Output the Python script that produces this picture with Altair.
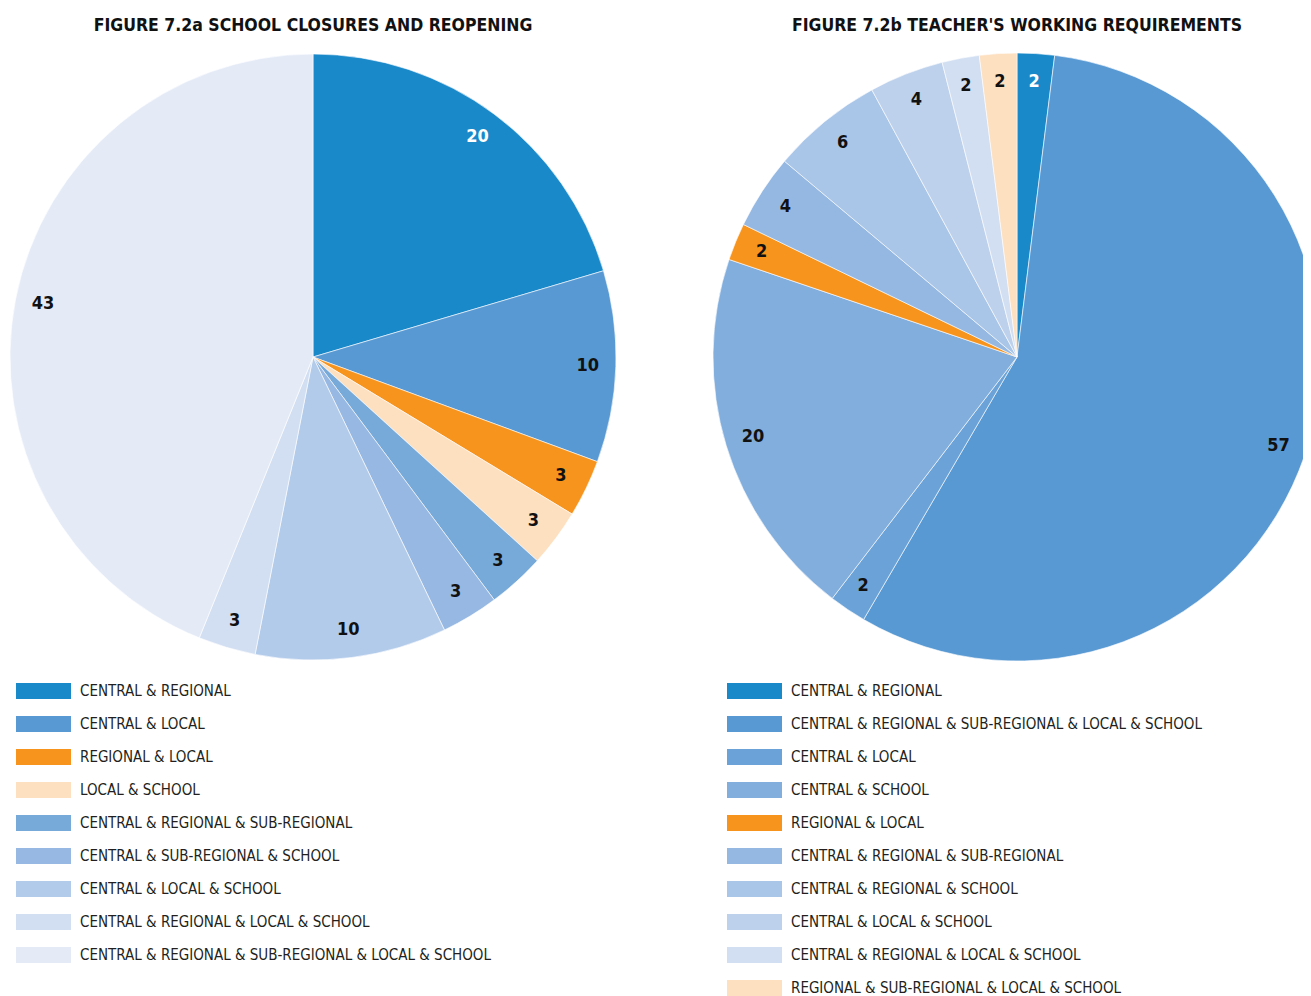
import altair as alt
import pandas as pd

FONT = "Liberation Sans Narrow, DejaVu Sans Condensed, Liberation Sans, sans-serif"

# ---- Figure 7.2a : school closures and reopening ----
left_title = "FIGURE 7.2a SCHOOL CLOSURES AND REOPENING"
left_categories = [
    "CENTRAL & REGIONAL",
    "CENTRAL & LOCAL",
    "REGIONAL & LOCAL",
    "LOCAL & SCHOOL",
    "CENTRAL & REGIONAL & SUB-REGIONAL",
    "CENTRAL & SUB-REGIONAL & SCHOOL",
    "CENTRAL & LOCAL & SCHOOL",
    "CENTRAL & REGIONAL & LOCAL & SCHOOL",
    "CENTRAL & REGIONAL & SUB-REGIONAL & LOCAL & SCHOOL",
]
left_values = [20, 10, 3, 3, 3, 3, 10, 3, 43]
left_colors = ["#1a89c9", "#5899d3", "#f7941e", "#fde0c0", "#77a9d9",
               "#96b8e2", "#b3cbea", "#d2dff2", "#e4ebf7"]

# ---- Figure 7.2b : teacher's working requirements ----
right_title = "FIGURE 7.2b TEACHER'S WORKING REQUIREMENTS"
right_categories = [
    "CENTRAL & REGIONAL",
    "CENTRAL & REGIONAL & SUB-REGIONAL & LOCAL & SCHOOL",
    "CENTRAL & LOCAL",
    "CENTRAL & SCHOOL",
    "REGIONAL & LOCAL",
    "CENTRAL & REGIONAL & SUB-REGIONAL",
    "CENTRAL & REGIONAL & SCHOOL",
    "CENTRAL & LOCAL & SCHOOL",
    "CENTRAL & REGIONAL & LOCAL & SCHOOL",
    "REGIONAL & SUB-REGIONAL & LOCAL & SCHOOL",
]
right_values = [2, 57, 2, 20, 2, 4, 6, 4, 2, 2]
right_colors = ["#1a89c9", "#5899d3", "#6ba3d9", "#82aedd", "#f7941e",
                "#95b8e2", "#a9c5e8", "#bdd1ec", "#d2dff2", "#fde0c0"]

W, H = 1295, 988
ROW_SCALE = alt.Scale(domain=[0, 9], range=[683, 980])


def panel(title, cats, vals, colors, cx, cy, radius, lx):
    df = pd.DataFrame({"category": cats, "value": vals, "idx": list(range(len(cats)))})
    color = alt.Color("category:N", scale=alt.Scale(domain=cats, range=colors), legend=None)
    base = alt.Chart(df)
    theta = alt.Theta("value:Q", stack=True)
    order = alt.Order("idx:Q", sort="ascending")

    arcs = base.mark_arc(outerRadius=radius, stroke="white", strokeWidth=0.6).encode(
        theta=theta, order=order, color=color,
        x=alt.value(cx), y=alt.value(cy),
    )
    labels = base.mark_text(radius=radius - 28, font=FONT, fontSize=18, fontWeight="bold",
                            align="center", baseline="middle").encode(
        theta=theta, order=order, text=alt.Text("value:Q"),
        x=alt.value(cx), y=alt.value(cy),
        color=alt.condition(alt.datum.category == "CENTRAL & REGIONAL",
                            alt.value("white"), alt.value("#111111")),
    )
    swatches = base.mark_rule(strokeWidth=16).encode(
        x=alt.value(lx), x2=alt.value(lx + 55),
        y=alt.Y("idx:Q", scale=ROW_SCALE, axis=None),
        color=color,
    )
    names = base.mark_text(align="left", baseline="middle", font=FONT, fontSize=15,
                           color="#231f20").encode(
        x=alt.value(lx + 64),
        y=alt.Y("idx:Q", scale=ROW_SCALE, axis=None),
        text="category:N",
    )
    heading = alt.Chart(pd.DataFrame({"t": [title]})).mark_text(
        font=FONT, fontSize=17.5, fontWeight="bold", color="#111111",
        align="center", baseline="middle",
    ).encode(x=alt.value(cx), y=alt.value(18), text="t:N")
    return alt.layer(arcs, labels, swatches, names, heading)


left = panel(left_title, left_categories, left_values, left_colors, 305, 349, 303, 8)
right = panel(right_title, right_categories, right_values, right_colors, 1009, 349, 304, 719)

chart = alt.layer(left, right).resolve_scale(
    theta="independent", color="independent"
).properties(
    width=W, height=H, padding=0,
    autosize=alt.AutoSizeParams(type="none"),
).configure_view(stroke=None)

chart.save("out.html", embed_options={"renderer": "svg", "actions": False})
